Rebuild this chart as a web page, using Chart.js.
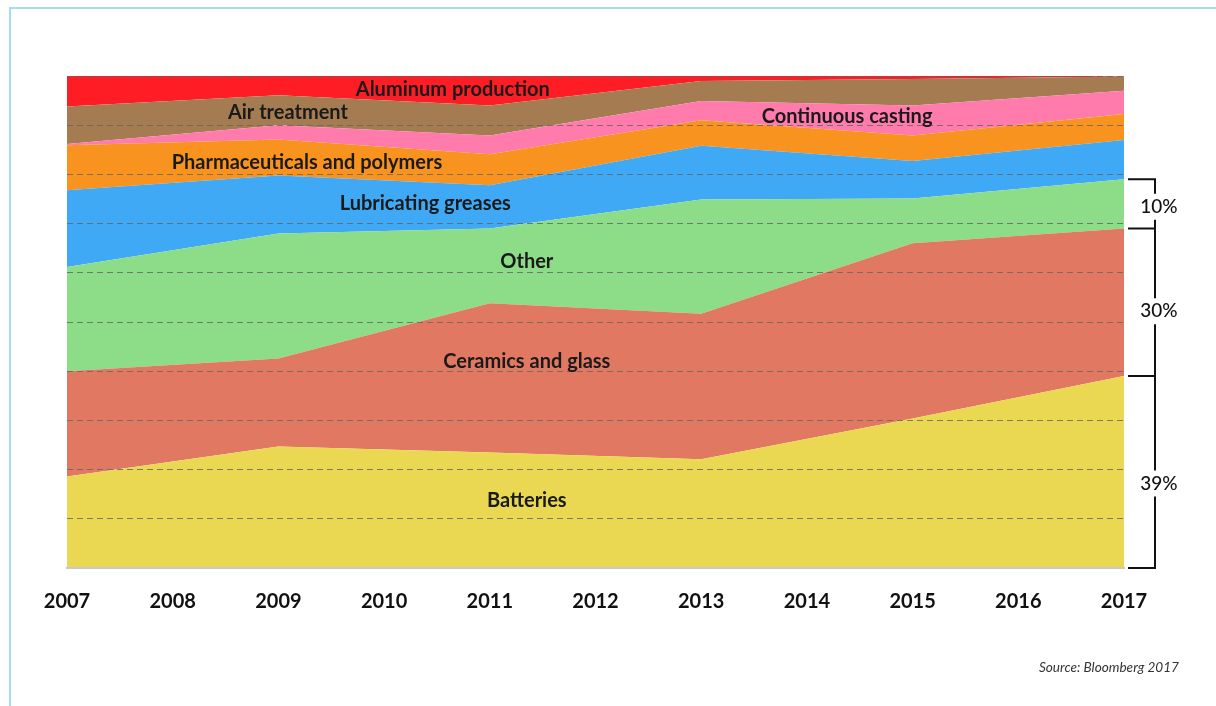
<!DOCTYPE html>
<html>
<head>
<meta charset="utf-8">
<script src="https://cdn.jsdelivr.net/npm/chart.js@4.4.0/dist/chart.umd.min.js"></script>
<style>
  html, body { margin: 0; padding: 0; background: #fff; overflow: hidden; }
  #wrap { position: relative; width: 1216px; height: 706px; overflow: hidden; }
  #frame { position: absolute; left: 9px; top: 7px; width: 1400px; height: 900px;
           border: 2px solid #a6dcee; box-sizing: border-box; }
  #chart { position: absolute; left: 0; top: 0; }
  #src { position: absolute; right: 37px; top: 659px; font: italic 13.6px Lato, sans-serif; color: #333; }
</style>
</head>
<body>
<div id="wrap">
  <div id="frame"></div>
  <canvas id="chart" width="1216" height="706"></canvas>
  <div id="src">Source: Bloomberg 2017</div>
</div>
<script>
// Share of cobalt demand by end use, percent of total
const years = [2007, 2009, 2011, 2013, 2015, 2017];
const tickYears = [2007, 2008, 2009, 2010, 2011, 2012, 2013, 2014, 2015, 2016, 2017];

const batteries   = [18.6, 24.7, 23.5, 22.1, 30.4, 39.0];
const ceramics    = [21.4, 17.9, 30.3, 29.6, 35.6, 30.0];
const other       = [21.2, 25.4, 15.2, 23.2,  9.1, 10.0];
const lubricating = [15.6, 11.8,  8.8, 10.9,  7.6,  8.0];
const pharma      = [ 9.1,  7.3,  6.3,  5.2,  5.2,  5.3];
const casting     = [ 0.3,  2.9,  3.8,  3.9,  6.1,  4.7];
const airTreat    = [ 7.6,  6.1,  6.1,  4.1,  5.4,  2.9];
const aluminum    = [ 6.2,  3.9,  6.0,  1.0,  0.6,  0.1];

const seriesNames = ['Batteries', 'Ceramics and glass', 'Other', 'Lubricating greases',
  'Pharmaceuticals and polymers', 'Continuous casting', 'Air treatment', 'Aluminum production'];
const seriesValues = [batteries, ceramics, other, lubricating, pharma, casting, airTreat, aluminum];
const seriesColors = ['#ebd852', '#e17862', '#8cdc88', '#3fa9f5', '#f8931f', '#ff7bac', '#a57c52', '#ff1d25'];

// where each series name is written inside its band (year, percent)
const labelSpots = [
  [2011.35, 13.7], [2011.35, 41.9], [2011.35, 62.3], [2010.39, 74.1],
  [2009.27, 82.5], [2014.38, 91.8], [2009.09, 92.6], [2010.65, 97.3]
];

// bracketed shares for the last year (first three series)
const bracketCount = 3;

const datasets = seriesValues.map((vals, i) => ({
  label: seriesNames[i],
  data: years.map((y, j) => ({ x: y, y: vals[j] })),
  backgroundColor: seriesColors[i],
  borderWidth: 0,
  pointRadius: 0,
  tension: 0,
  fill: i === 0 ? 'origin' : '-1'
}));

const overlay = {
  id: 'overlay',
  afterDraw(chart) {
    const { ctx, chartArea, scales } = chart;
    const xs = scales.x, ys = scales.y;
    ctx.save();
    // band names
    ctx.fillStyle = '#1a1a1a';
    ctx.font = 'bold 20px Lato, sans-serif';
    ctx.textAlign = 'center';
    ctx.textBaseline = 'middle';
    seriesNames.forEach((name, i) => {
      const [yr, pct] = labelSpots[i];
      ctx.fillText(name, xs.getPixelForValue(yr), ys.getPixelForValue(pct));
    });

    // bracket with shares of the final year
    const last = years.length - 1;
    const xL = chartArea.right + 4, xV = chartArea.right + 31;
    let cum = 0;
    const edges = [ys.getPixelForValue(0)];
    const mids = [];
    for (let i = 0; i < bracketCount; i++) {
      const v = seriesValues[i][last];
      const y0 = ys.getPixelForValue(cum);
      cum += v;
      const y1 = ys.getPixelForValue(cum);
      edges.push(y1);
      const h = y0 - y1;
      mids.push({ y: (y0 + y1) / 2 + h * 0.06, text: Math.round(v) + '%' });
    }
    ctx.strokeStyle = '#111';
    ctx.lineWidth = 2;
    ctx.beginPath();
    edges.forEach(y => { ctx.moveTo(xL, y); ctx.lineTo(xV + 1, y); });
    // vertical line broken around each share text
    const top = edges[edges.length - 1], bottom = edges[0];
    const gaps = mids.map(m => [m.y - 13, m.y + 13]).sort((a, b) => a[0] - b[0]);
    let yStart = top;
    gaps.forEach(([g0, g1]) => {
      ctx.moveTo(xV, yStart); ctx.lineTo(xV, g0);
      yStart = g1;
    });
    ctx.moveTo(xV, yStart); ctx.lineTo(xV, bottom + 1);
    ctx.stroke();

    ctx.font = '500 19px Lato, sans-serif';
    ctx.fillStyle = '#111';
    mids.forEach(m => ctx.fillText(m.text, xV + 4, m.y));
    ctx.restore();
  }
};

new Chart(document.getElementById('chart'), {
  type: 'line',
  data: { datasets },
  options: {
    responsive: false,
    animation: false,
    devicePixelRatio: 1,
    layout: { padding: { left: 67, right: 92, top: 76, bottom: 70 } },
    plugins: { legend: { display: false }, tooltip: { enabled: false } },
    elements: { line: { borderWidth: 0 } },
    scales: {
      x: {
        type: 'linear',
        min: years[0],
        max: years[years.length - 1],
        afterBuildTicks: s => { s.ticks = tickYears.map(v => ({ value: v })); },
        ticks: {
          autoSkip: false, maxRotation: 0, padding: 22,
          color: '#111', font: { family: 'Lato', weight: 'bold', size: 20 },
          callback: v => String(v)
        },
        grid: { display: false, drawTicks: false },
        border: { display: true, color: '#c8c8c8', width: 2, z: 1 }
      },
      y: {
        stacked: true,
        min: 0, max: 100,
        ticks: { display: false, stepSize: 10 },
        grid: {
          drawTicks: false, z: 1, lineWidth: 1,
          color: c => c.tick && c.tick.value === 0 ? 'rgba(0,0,0,0)' : 'rgba(100,100,100,0.8)'
        },
        border: { display: false, dash: [6, 4] }
      }
    }
  },
  plugins: [overlay]
});
</script>
</body>
</html>
